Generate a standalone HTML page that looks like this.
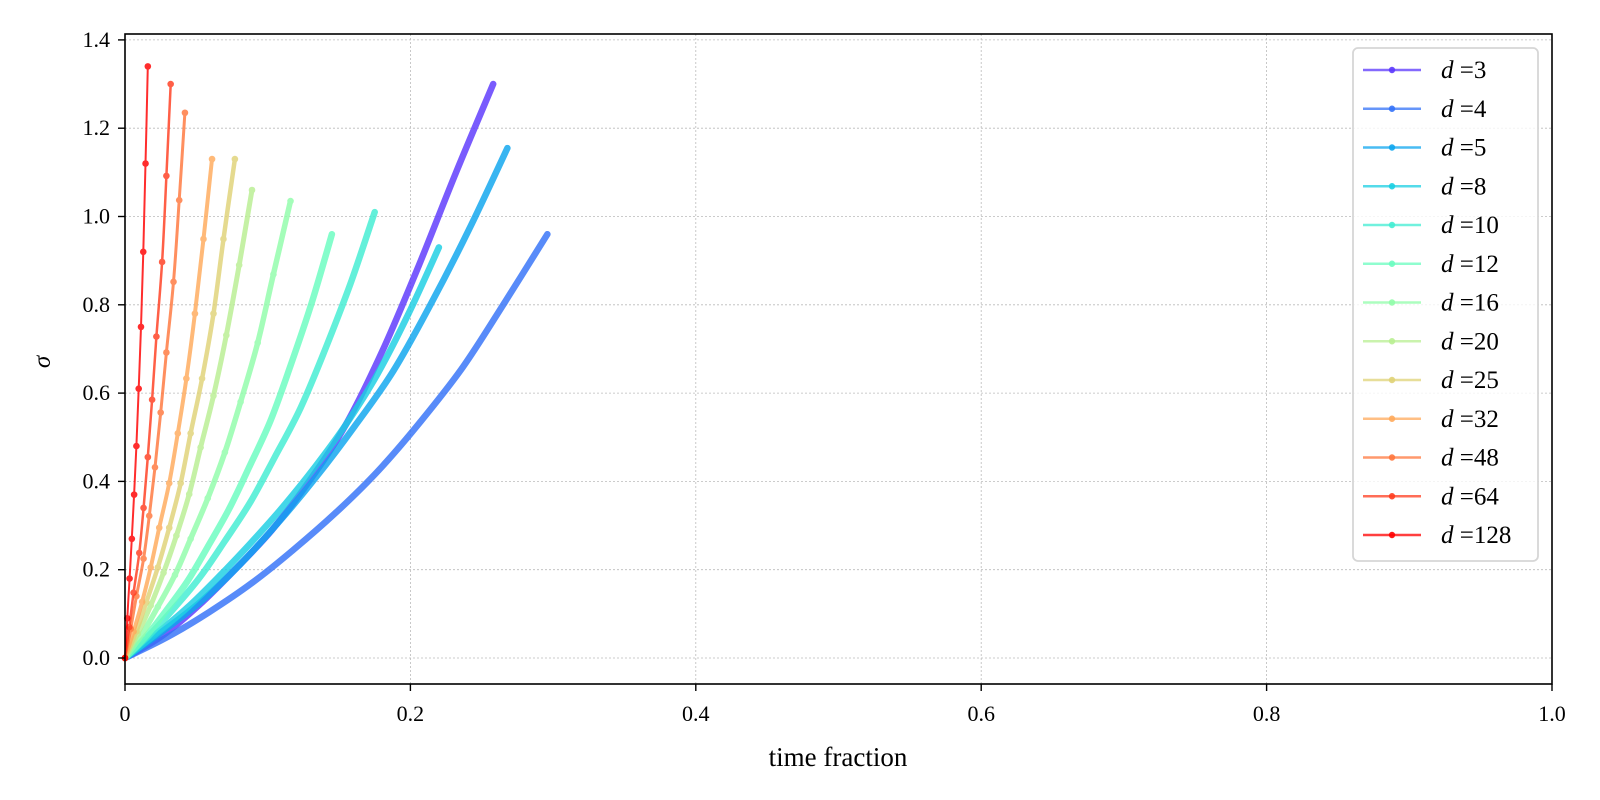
<!DOCTYPE html>
<html><head><meta charset="utf-8">
<style>
body{margin:0;background:#fff;}
svg{display:block;font-family:"Liberation Serif","DejaVu Serif",serif;}
</style></head>
<body>
<svg id="chart" width="1600" height="800" viewBox="0 0 1600 800" xmlns="http://www.w3.org/2000/svg">
<rect width="1600" height="800" fill="#fff"/>
<g id="grid"></g>
<g id="series"></g>
<rect x="125" y="34" width="1427" height="650" fill="none" stroke="#000" stroke-width="1.6"/>
<g id="axes"></g>
<text x="838" y="766" font-size="27" text-anchor="middle">time fraction</text>
<text x="0" y="0" font-size="25" font-style="italic" text-anchor="middle" transform="translate(50,362) rotate(-90)">σ</text>
<g id="legend"></g>
</svg>
<script>
const labels = ["3","4","5","8","10","12","16","20","25","32","48","64","128"];
const xTicks = [0, 0.2, 0.4, 0.6, 0.8, 1.0];
const xTickLabels = ["0","0.2","0.4","0.6","0.8","1.0"];
const yTicks = [0,0.2,0.4,0.6,0.8,1.0,1.2,1.4];
const yTickLabels = ["0.0","0.2","0.4","0.6","0.8","1.0","1.2","1.4"];

const xs_d3 = [0,.026,.052,.077,.103,.129,.155,.181,.206,.232,.258];
const ys_d3 = [0,.050,.120,.200,.290,.400,.530,.700,.890,1.100,1.30];
const xs_d4 = [0,.030,.059,.089,.118,.148,.178,.207,.237,.266,.296];
const ys_d4 = [0,.048,.104,.170,.245,.330,.426,.535,.660,.805,.96];
const xs_d5 = [0,.027,.054,.080,.107,.134,.161,.188,.214,.241,.268];
const ys_d5 = [0,.062,.130,.210,.305,.410,.525,.650,.800,.970,1.155];
const xs_d8 = [0,.022,.044,.066,.088,.110,.132,.154,.176,.198,.220];
const ys_d8 = [0,.055,.115,.185,.260,.340,.428,.525,.638,.775,.93];
const xs_d10 = [0,.018,.035,.053,.070,.088,.105,.123,.140,.158,.175];
const ys_d10 = [0,.055,.115,.185,.265,.354,.455,.566,.697,.848,1.01];
const xs_d12 = [0,.015,.029,.044,.058,.073,.087,.102,.116,.131,.145];
const ys_d12 = [0,.050,.108,.175,.252,.338,.432,.538,.662,.806,.96];
const xs_d16 = [0,.012,.023,.035,.046,.058,.070,.081,.093,.104,.116];
const ys_d16 = [0,.054,.116,.188,.270,.362,.466,.580,.714,.869,1.035];
const xs_d20 = [0,.009,.018,.027,.036,.045,.053,.062,.071,.080,.089];
const ys_d20 = [0,.055,.119,.193,.277,.371,.477,.594,.731,.890,1.06];
const xs_d25 = [0,.008,.015,.023,.031,.039,.046,.054,.062,.069,.077];
const ys_d25 = [0,.060,.127,.205,.295,.396,.509,.633,.780,.949,1.13];
const xs_d32 = [0,.006,.012,.018,.024,.031,.037,.043,.049,.055,.061];
const ys_d32 = [0,.060,.127,.205,.295,.396,.509,.633,.780,.949,1.13];
const xs_d48 = [0,.004,.008,.013,.017,.021,.025,.029,.034,.038,.042];
const ys_d48 = [0,.066,.140,.225,.322,.432,.556,.692,.852,1.037,1.235];
const xs_d64 = [0,.003,.006,.010,.013,.016,.019,.022,.026,.029,.032];
const ys_d64 = [0,.070,.148,.238,.340,.455,.585,.728,.897,1.092,1.30];
const xs_d128 = [0,.0016,.0032,.0048,.0064,.008,.0096,.0112,.0128,.0144,.016];
const ys_d128 = [0,.090,.180,.270,.370,.480,.610,.750,.920,1.120,1.34];

const seriesX = [xs_d3,xs_d4,xs_d5,xs_d8,xs_d10,xs_d12,xs_d16,xs_d20,xs_d25,xs_d32,xs_d48,xs_d64,xs_d128];
const seriesY = [ys_d3,ys_d4,ys_d5,ys_d8,ys_d10,ys_d12,ys_d16,ys_d20,ys_d25,ys_d32,ys_d48,ys_d64,ys_d128];

const NS = "http://www.w3.org/2000/svg";
const X0=125, X1=1552, Y0px=658, PXY=441.5;
function sx(v){return X0+v*(X1-X0);}
function sy(v){return Y0px-v*PXY;}
function color(i,n){
  const x=0.07+i*(0.93/(n-1));
  const r=Math.min(1,Math.abs(2*x-0.5)), g=Math.max(0,Math.sin(Math.PI*x)), b=Math.max(0,Math.cos(Math.PI*x/2));
  return `rgb(${Math.round(r*255)},${Math.round(g*255)},${Math.round(b*255)})`;
}
function mk(tag,attrs,parent){const e=document.createElementNS(NS,tag);for(const k in attrs)e.setAttribute(k,attrs[k]);parent.appendChild(e);return e;}
function smoothPath(P){
  let d='M'+P[0][0].toFixed(1)+','+P[0][1].toFixed(1);
  for(let i=0;i<P.length-1;i++){
    const p0=P[Math.max(0,i-1)],p1=P[i],p2=P[i+1],p3=P[Math.min(P.length-1,i+2)];
    const c1=[p1[0]+(p2[0]-p0[0])/6,p1[1]+(p2[1]-p0[1])/6];
    const c2=[p2[0]-(p3[0]-p1[0])/6,p2[1]-(p3[1]-p1[1])/6];
    d+=' C'+c1[0].toFixed(1)+','+c1[1].toFixed(1)+' '+c2[0].toFixed(1)+','+c2[1].toFixed(1)+' '+p2[0].toFixed(1)+','+p2[1].toFixed(1);
  }
  return d;
}

const grid=document.getElementById('grid'), axes=document.getElementById('axes');
xTicks.forEach((t,i)=>{
  const x=sx(t);
  const gl=mk('line',{x1:x,x2:x,y1:34,y2:684,stroke:'#bbb','stroke-width':0.8,'stroke-dasharray':'2,2'},grid);
  
  
  const tk=mk('line',{x1:x,x2:x,y1:684,y2:691,stroke:'#000','stroke-width':1.4},axes);
  
  
  const tl=mk('text',{x:x,y:721,'font-size':22,'text-anchor':'middle'},axes);
  
  
  tl.textContent=xTickLabels[i];
});
yTicks.forEach((t,i)=>{
  const y=sy(t);
  const gl=mk('line',{x1:125,x2:1552,y1:y,y2:y,stroke:'#bbb','stroke-width':0.8,'stroke-dasharray':'2,2'},grid);
  
  
  const tk=mk('line',{x1:118,x2:125,y1:y,y2:y,stroke:'#000','stroke-width':1.4},axes);
  
  
  const tl=mk('text',{x:110,y:y+7,'font-size':22,'text-anchor':'end'},axes);
  
  
  tl.textContent=yTickLabels[i];
});

const sg=document.getElementById('series');
const n=labels.length;
const lineW=[6.5,6.5,6.5,6.5,6.5,6.5,5.5,5,4.5,4,3,2.5,2];
const mR=[3,3,3,3,3,3,3.3,3.3,3.3,3.3,3.3,3.3,3.3];
seriesX.forEach((xs,i)=>{
  const ys=seriesY[i];
  const c=color(i,n);
  const g=mk('g',{opacity:0.82},sg);
  
  
  const P=xs.map((x,j)=>[sx(x),sy(ys[j])]);
  const pl=mk('path',{d:smoothPath(P),fill:'none',stroke:c,'stroke-width':lineW[i],'stroke-linecap':'round','stroke-linejoin':'round'},g);
  
  
  xs.forEach((x,j)=>{
    const m=mk('circle',{cx:sx(x),cy:sy(ys[j]),r:mR[i],fill:c},g);
    
    
  });
});

const lg=document.getElementById('legend');
const box=mk('rect',{x:1353,y:48,width:185,height:513,rx:5,fill:'#fff','fill-opacity':0.8,stroke:'#d6d6d6','stroke-width':1.8},lg);


labels.forEach((l,i)=>{
  const y=70+i*38.75, c=color(i,n);
  const e=mk('g',{},lg);
  
  
  mk('line',{x1:1363,x2:1421,y1:y,y2:y,stroke:c,'stroke-width':2.5,opacity:0.75},e);
  mk('circle',{cx:1392,cy:y,r:3.2,fill:c,opacity:0.9},e);
  const t=mk('text',{x:1441,y:y+8,'font-size':25},e);
  t.innerHTML='<tspan font-style="italic">d</tspan> =' + l;
});
</script>
</body></html>
